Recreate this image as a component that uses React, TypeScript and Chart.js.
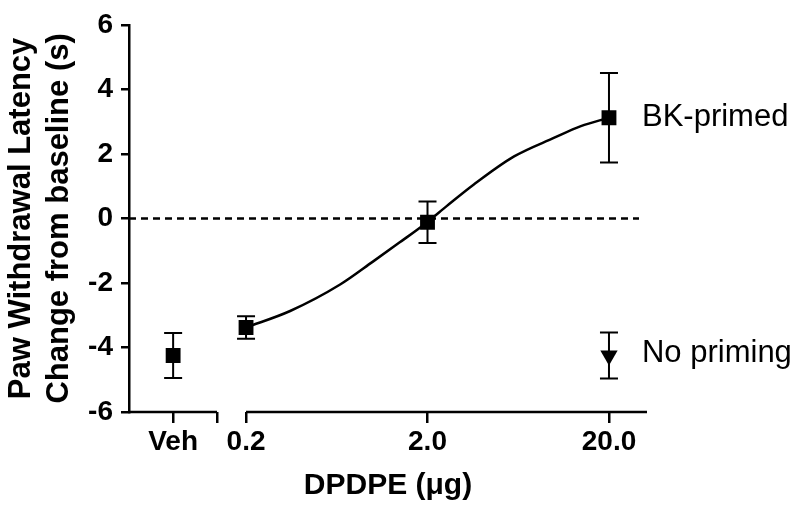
import React, { useEffect, useRef } from 'react';
import { Chart, registerables } from 'chart.js';

Chart.register(...registerables);

// ---- data ----
const groupLabels = ['Veh', '0.2', '2.0', '20.0'];
const groupDoses: (number | null)[] = [null, 0.2, 2, 20]; // μg, Veh has no dose
const bkMeans = [-4.25, -3.38, -0.12, 3.12];
const bkSems = [0.7, 0.35, 0.64, 1.39];
const noPrimingDoses = [20];
const noPrimingMeans = [-4.25];
const noPrimingSems = [0.71];
// fitted curve
const curveDoses = [0.2, 0.35, 0.66, 1.0, 1.4, 2.0, 2.55, 3.6, 6.0, 10, 14, 20];
const curveValues = [-3.38, -2.87, -2.05, -1.34, -0.75, -0.11, 0.38, 1.05, 1.92, 2.5, 2.86, 3.12];
const yTickValues = [-6, -4, -2, 0, 2, 4, 6];
const seriesNames = ['BK-primed', 'No priming'];

// ---- axis layout (broken log axis) ----
const VEH_POS = 0.0793; // where the Veh group sits left of the break
const BREAK_END = 0.1384; // end of the left axis segment
const X_MIN = 0.0453;
const X_MAX = 32.4;

const FONT = '"Liberation Sans", Arial, sans-serif';

const xOf = (d: number | null) => (d === null ? VEH_POS : d);

const xTickValues = [VEH_POS, BREAK_END, ...groupDoses.slice(1) as number[]];
const xTickLabels = [groupLabels[0], '', ...groupLabels.slice(1)];

const decorPlugin = {
  id: 'decor',
  beforeDatasetsDraw(chart: any) {
    const { ctx, chartArea, scales } = chart;
    const x = scales.x;
    const y = scales.y;
    ctx.save();
    // dotted zero reference line
    ctx.strokeStyle = '#000';
    ctx.lineWidth = 2.5;
    ctx.setLineDash([7, 5]);
    const y0 = y.getPixelForValue(0);
    ctx.beginPath();
    ctx.moveTo(chartArea.left, y0);
    ctx.lineTo(chartArea.right - 8, y0);
    ctx.stroke();
    ctx.setLineDash([]);
    // error bars
    const drawErr = (xv: number, m: number, s: number) => {
      const px = x.getPixelForValue(xv);
      const top = y.getPixelForValue(m + s);
      const bot = y.getPixelForValue(m - s);
      ctx.lineWidth = 2;
      ctx.beginPath();
      ctx.moveTo(px, top);
      ctx.lineTo(px, bot);
      ctx.moveTo(px - 9, top);
      ctx.lineTo(px + 9, top);
      ctx.moveTo(px - 9, bot);
      ctx.lineTo(px + 9, bot);
      ctx.stroke();
    };
    groupDoses.forEach((d, i) => drawErr(xOf(d), bkMeans[i], bkSems[i]));
    noPrimingDoses.forEach((d, i) => drawErr(d, noPrimingMeans[i], noPrimingSems[i]));
    ctx.restore();
  },
  afterDraw(chart: any) {
    const { ctx, chartArea, scales } = chart;
    const x = scales.x;
    const y = scales.y;
    ctx.save();
    // broken x axis line
    ctx.strokeStyle = '#000';
    ctx.lineWidth = 2.5;
    const yb = chartArea.bottom;
    ctx.beginPath();
    ctx.moveTo(chartArea.left - 1, yb);
    ctx.lineTo(x.getPixelForValue(BREAK_END), yb);
    ctx.moveTo(x.getPixelForValue(groupDoses[1] as number), yb);
    ctx.lineTo(chartArea.right, yb);
    ctx.stroke();
    // series labels at the right of the last point
    ctx.fillStyle = '#000';
    ctx.font = `31px ${FONT}`;
    ctx.textAlign = 'left';
    ctx.textBaseline = 'middle';
    const last = groupDoses.length - 1;
    ctx.fillText(seriesNames[0], x.getPixelForValue(xOf(groupDoses[last])) + 33, y.getPixelForValue(bkMeans[last]));
    const ln = noPrimingDoses.length - 1;
    ctx.fillText(seriesNames[1], x.getPixelForValue(noPrimingDoses[ln]) + 33, y.getPixelForValue(noPrimingMeans[ln]) - 2);
    ctx.restore();
  },
};

export default function App() {
  const ref = useRef<HTMLCanvasElement | null>(null);
  useEffect(() => {
    if (!ref.current) return;
    const chart = new Chart(ref.current, {
      type: 'scatter',
      data: {
        datasets: [
          {
            label: seriesNames[0],
            data: groupDoses.map((d, i) => ({ x: xOf(d), y: bkMeans[i] })),
            pointStyle: 'rect',
            pointRadius: 10.5,
            backgroundColor: '#000',
            borderColor: '#000',
            borderWidth: 0,
            showLine: false,
          },
          {
            label: seriesNames[1],
            data: noPrimingDoses.map((d, i) => ({ x: d, y: noPrimingMeans[i] })),
            pointStyle: 'triangle',
            rotation: 180,
            pointRadius: 10,
            backgroundColor: '#000',
            borderColor: '#000',
            borderWidth: 0,
            showLine: false,
          },
          {
            label: 'fit',
            data: curveDoses.map((d, i) => ({ x: d, y: curveValues[i] })),
            showLine: true,
            borderColor: '#000',
            borderWidth: 2.5,
            pointRadius: 0,
            cubicInterpolationMode: 'monotone',
            fill: false,
          } as any,
        ],
      },
      options: {
        responsive: false,
        animation: false,
        devicePixelRatio: 1,
        layout: { padding: { top: 21, right: 153, bottom: 0, left: 0 } },
        plugins: {
          legend: { display: false },
          tooltip: { enabled: false },
        },
        events: [],
        scales: {
          x: {
            type: 'logarithmic',
            min: X_MIN,
            max: X_MAX,
            bounds: 'data',
            afterBuildTicks: (scale: any) => {
              scale.ticks = xTickValues.map((v) => ({ value: v }));
            },
            afterFit: (scale: any) => {
              scale.height = 99;
            },
            border: { display: false },
            grid: {
              display: true,
              drawOnChartArea: false,
              drawTicks: true,
              tickLength: 11,
              color: '#000',
              lineWidth: 2.5,
            },
            ticks: {
              autoSkip: false,
              maxRotation: 0,
              padding: 2,
              color: '#000',
              font: { family: FONT, size: 28, weight: 'bold' },
              callback: (_v: any, i: number) => xTickLabels[i],
            },
            title: {
              display: true,
              text: 'DPDPE (μg)',
              color: '#000',
              font: { family: FONT, size: 30, weight: 'bold' },
              padding: { top: 0, bottom: 7 },
            },
          },
          y: {
            type: 'linear',
            min: yTickValues[0],
            max: yTickValues[yTickValues.length - 1],
            afterBuildTicks: (scale: any) => {
              scale.ticks = yTickValues.map((v) => ({ value: v }));
            },
            afterFit: (scale: any) => {
              scale.width = 129;
            },
            border: { display: true, color: '#000', width: 2.5 },
            grid: {
              display: true,
              drawOnChartArea: false,
              drawTicks: true,
              tickLength: 8,
              color: '#000',
              lineWidth: 2.5,
            },
            ticks: {
              padding: 8,
              color: '#000',
              font: { family: FONT, size: 28, weight: 'bold' },
              callback: (v: any) => String(v),
            },
            title: {
              display: true,
              text: ['Paw Withdrawal Latency', 'Change from baseline (s)'],
              color: '#000',
              font: { family: FONT, size: 31, weight: 'bold', lineHeight: '38px' },
              padding: { top: 2, bottom: 0 },
            },
          },
        },
      },
      plugins: [decorPlugin],
    } as any);
    return () => chart.destroy();
  }, []);
  return (
    <canvas
      ref={ref}
      width={800}
      height={511}
      style={{ position: 'absolute', left: 0, top: 0, width: 800, height: 511 }}
    />
  );
}
